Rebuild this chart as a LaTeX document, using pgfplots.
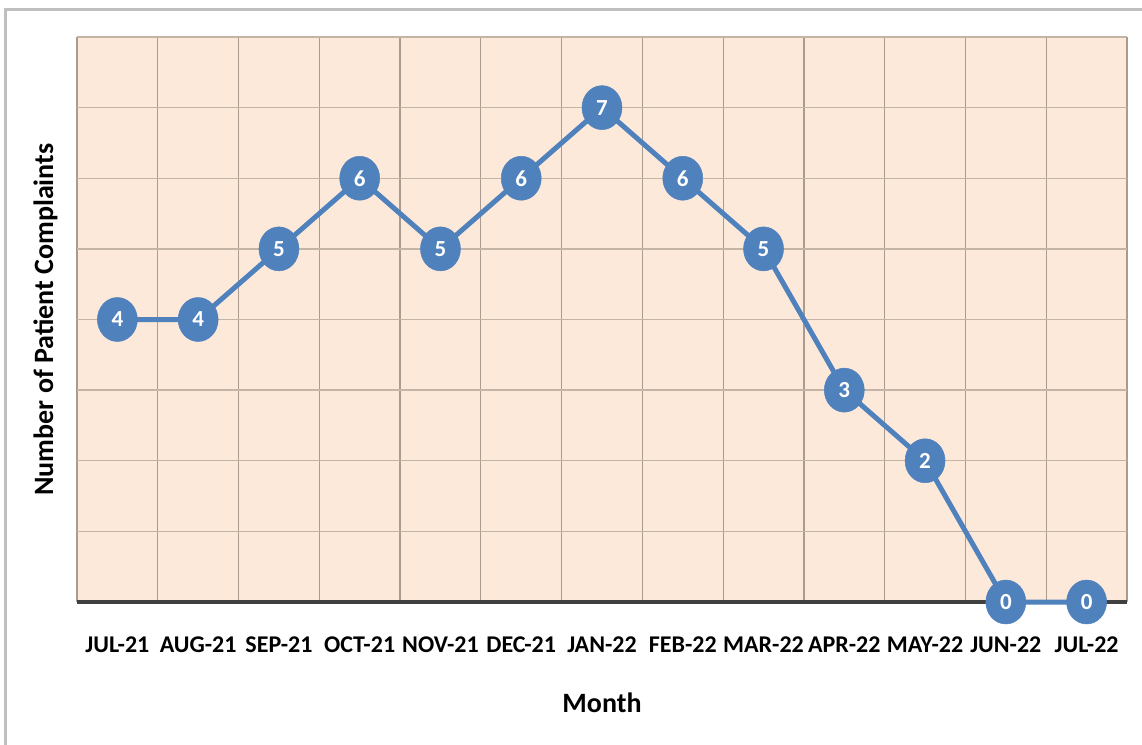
\documentclass[border=0pt]{standalone}
\usepackage{pgfplots}
\pgfplotsset{compat=1.18}
\usepackage{fontspec}
\setmainfont{Carlito}
\definecolor{bgc}{HTML}{FDE9D9}
\definecolor{hgrid}{HTML}{C4B4A6}
\definecolor{vgrid}{HTML}{A99B90}
\definecolor{ser}{HTML}{4F81BD}
\definecolor{frame}{HTML}{BFBFBF}
\begin{document}
\begin{tikzpicture}[x=1pt,y=1pt]
\useasboundingbox (0,0) rectangle (1142,744);
\draw[frame, line width=3pt] (5,-5) -- (5,734) -- (1150,734);
\begin{axis}[
  at={(77pt,142pt)}, anchor=south west,
  scale only axis, width=1050pt, height=565pt,
  xmin=-0.5, xmax=12.5, ymin=0, ymax=8,
  xtick={0,...,12},
  xticklabels={JUL-21,AUG-21,SEP-21,OCT-21,NOV-21,DEC-21,JAN-22,FEB-22,MAR-22,APR-22,MAY-22,JUN-22,JUL-22},
  minor xtick={-0.5,0.5,...,12.5},
  ytick={1,...,8}, yticklabels={},
  major x tick style={draw=none}, minor x tick style={draw=none},
  major y tick style={draw=none},
  ymajorgrids, xminorgrids,
  major grid style={hgrid, line width=1.3pt},
  minor grid style={vgrid, line width=1.3pt},
  axis line style={draw=none},
  axis background/.style={fill=bgc},
  xticklabel style={font=\fontsize{24}{27}\selectfont\bfseries, yshift=-31pt},
  xlabel={Month}, ylabel={Number of Patient Complaints},
  xlabel style={font=\fontsize{28}{31}\selectfont\bfseries, yshift=-34pt},
  ylabel style={font=\fontsize{28}{32}\selectfont\bfseries, yshift=9pt},
  clip=false,
]
\draw[color=black!75, line width=4.5pt] (axis cs:-0.5,0) -- (axis cs:12.5,0);
\addplot[ser, line width=5pt, mark=*, mark size=20pt,
  mark options={yscale=1.1, fill=ser, draw=ser, line width=0.5pt},
  nodes near coords={\pgfmathprintnumber[assume math mode=true]{\pgfplotspointmeta}},
  every node near coord/.append style={anchor=center, text=white, font=\fontsize{23}{26}\selectfont\bfseries}]
coordinates {(0,4) (1,4) (2,5) (3,6) (4,5) (5,6) (6,7) (7,6) (8,5) (9,3) (10,2) (11,0) (12,0)};
\end{axis}
\end{tikzpicture}
\end{document}
